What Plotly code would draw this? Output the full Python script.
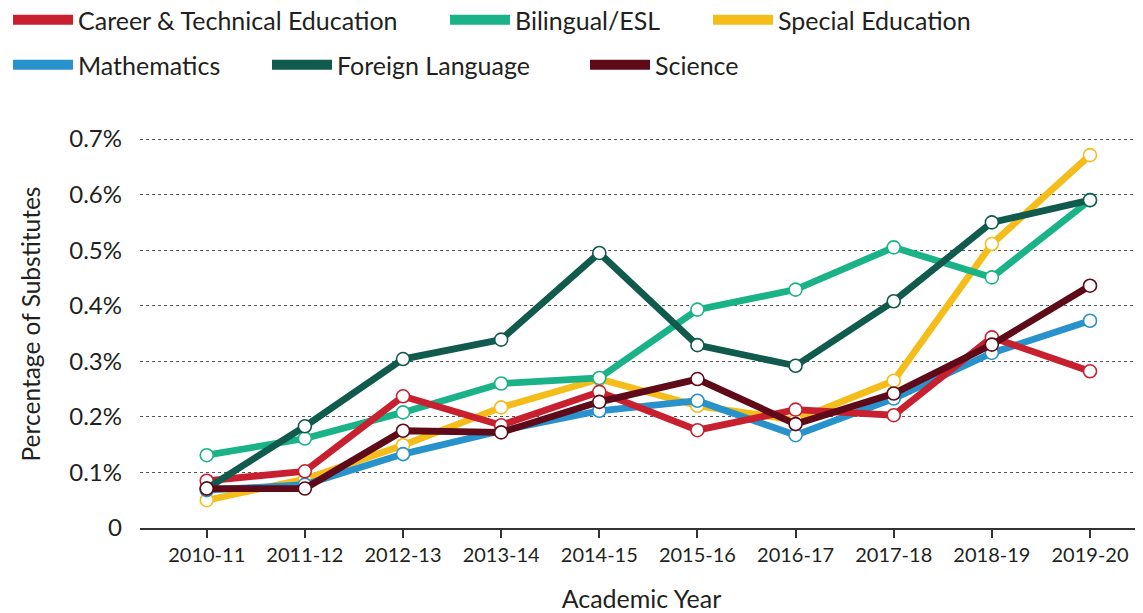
import plotly.graph_objects as go

years = ["2010-11", "2011-12", "2012-13", "2013-14", "2014-15",
         "2015-16", "2016-17", "2017-18", "2018-19", "2019-20"]

career = [0.085, 0.102, 0.237, 0.185, 0.245, 0.176, 0.213, 0.203, 0.343, 0.282]
bilingual = [0.131, 0.161, 0.208, 0.260, 0.270, 0.393, 0.429, 0.505, 0.451, 0.590]
special = [0.050, 0.088, 0.149, 0.217, 0.268, 0.220, 0.194, 0.265, 0.511, 0.671]
math = [0.068, 0.078, 0.133, 0.175, 0.211, 0.229, 0.167, 0.233, 0.315, 0.373]
foreign = [0.071, 0.183, 0.304, 0.339, 0.495, 0.329, 0.292, 0.408, 0.550, 0.590]
science = [0.071, 0.071, 0.175, 0.172, 0.227, 0.268, 0.187, 0.242, 0.330, 0.436]

y_ticks = [0, 0.1, 0.2, 0.3, 0.4, 0.5, 0.6, 0.7]
y_ticktext = ["0", "0.1%", "0.2%", "0.3%", "0.4%", "0.5%", "0.6%", "0.7%"]

series = {
    "Career & Technical Education": (career, "#C8202F"),
    "Bilingual/ESL": (bilingual, "#1AB387"),
    "Special Education": (special, "#F4BD1A"),
    "Mathematics": (math, "#2792CB"),
    "Foreign Language": (foreign, "#105A4E"),
    "Science": (science, "#5E0A18"),
}
draw_order = ["Special Education", "Mathematics", "Bilingual/ESL",
              "Career & Technical Education", "Foreign Language", "Science"]
legend_order = ["Career & Technical Education", "Bilingual/ESL", "Special Education",
                "Mathematics", "Foreign Language", "Science"]
# legend box placement in figure pixels (left, vertical centre)
legend_pos = [(-5, 12), (437, 12), (700, 12), (-5, 57), (259, 57), (577, 57)]

FONT = "Lato"
TXT = "#231F20"
# the page body has an 8px margin, so the figure is 8px smaller than the window
W, H = 1135, 605

fig = go.Figure()
xs = list(range(len(years)))
for name in draw_order:
    vals, col = series[name]
    fig.add_trace(go.Scatter(
        x=xs, y=vals, mode="lines+markers", name=name, showlegend=False,
        line=dict(color=col, width=6.8),
        marker=dict(size=13, color="white", line=dict(color=col, width=1.6)),
    ))

legends = {}
for i, name in enumerate(legend_order):
    vals, col = series[name]
    lg = "legend" if i == 0 else f"legend{i + 1}"
    fig.add_trace(go.Scatter(
        x=[None], y=[None], mode="lines", name=name, legend=lg,
        line=dict(color=col, width=10),
    ))
    px, py = legend_pos[i]
    legends[lg] = dict(orientation="h", xref="container", yref="container",
                       x=px / W, y=1 - py / H, xanchor="left", yanchor="middle",
                       font=dict(size=25, family=FONT, color=TXT), itemwidth=60,
                       bgcolor="rgba(0,0,0,0)")

fig.update_layout(
    width=W, height=H,
    margin=dict(l=132, r=0, t=112, b=85, autoexpand=False),
    paper_bgcolor="white", plot_bgcolor="white",
    font=dict(family=FONT, color=TXT),
    **legends,
)
fig.update_xaxes(
    range=[-0.68, 9.54], tickmode="array", tickvals=xs, ticktext=years,
    showline=True, linecolor="#333333", linewidth=1.5,
    ticks="outside", ticklen=8, tickwidth=1.5, tickcolor="#333333",
    showgrid=False, zeroline=False,
    tickfont=dict(size=20, family=FONT, color=TXT),
    title=dict(text="Academic Year", font=dict(size=25, family=FONT, color=TXT), standoff=26),
)
fig.update_yaxes(
    range=[0, 0.7342], tickmode="array", tickvals=y_ticks, ticktext=y_ticktext,
    showline=False, zeroline=False, ticks="",
    showgrid=True, gridcolor="#555555", gridwidth=1.3, griddash="dot",
    tickfont=dict(size=24, family=FONT, color=TXT), ticklabelstandoff=17,
    title=dict(text="Percentage of Substitutes", font=dict(size=24.5, family=FONT, color=TXT), standoff=21),
)

fig.write_html("out.html")
